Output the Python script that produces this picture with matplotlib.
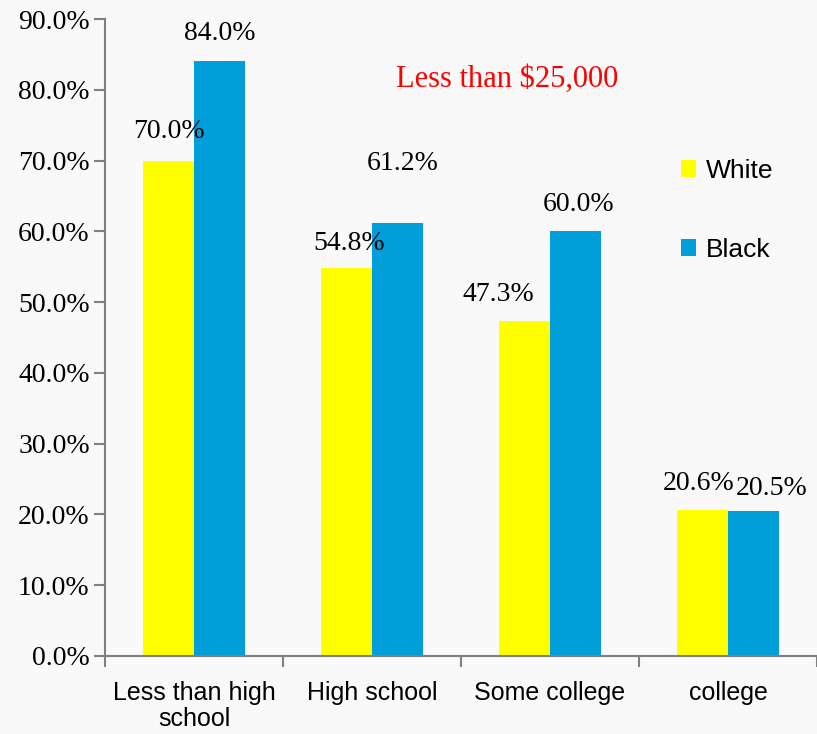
import matplotlib
matplotlib.use("Agg")
import matplotlib.pyplot as plt
import numpy as np
from matplotlib.patches import Patch

categories = ["Less than high\nschool", "High school", "Some college", "college"]
white_vals = [70.0, 54.8, 47.3, 20.6]
black_vals = [84.0, 61.2, 60.0, 20.5]
yticks = [0, 10, 20, 30, 40, 50, 60, 70, 80, 90]
title = "Less than $25,000"

YELLOW = "#FFFF00"
BLUE = "#009FDA"
BG = "#f9f9f9"
AXIS = "#808080"
SERIF = "Liberation Serif"
SANS = "Liberation Sans"

fig = plt.figure(figsize=(8.17, 7.34), dpi=100, facecolor=BG)
ax = fig.add_axes([0.1285, 0.1063, 0.8715, 0.8678])
ax.set_facecolor(BG)

x = np.arange(len(categories))
w = 0.287
bw = ax.bar(x - w / 2, white_vals, w, color=YELLOW, label="White", zorder=2)
bb = ax.bar(x + w / 2, black_vals, w, color=BLUE, label="Black", zorder=2)

ax.set_xlim(-0.5, len(categories) - 0.5)
ax.set_ylim(0, 90)

# y axis
ax.set_yticks(yticks)
ax.set_yticklabels([f"{v:.1f}%" for v in yticks], fontfamily=SERIF, fontsize=20)
ax.tick_params(axis="y", direction="out", length=8, width=1.5, color=AXIS, pad=3)

# x axis: ticks at category boundaries, labels at centres
ax.set_xticks(np.arange(-0.5, len(categories) + 0.5, 1.0))
ax.set_xticklabels([])
ax.set_xticks(x, minor=True)
ax.set_xticklabels(categories, minor=True, fontfamily=SANS, fontsize=18,
                   linespacing=1.1)
ax.tick_params(axis="x", which="major", direction="out", length=8, width=1.5, color=AXIS)
ax.tick_params(axis="x", which="minor", length=0, pad=18)

for s in ["top", "right"]:
    ax.spines[s].set_visible(False)
for s in ["left", "bottom"]:
    ax.spines[s].set_color(AXIS)
    ax.spines[s].set_linewidth(1.5)

# value labels
white_offsets = [(0, 21), (2, 18), (-19, 19), (-3, 19)]
black_offsets = [(0, 20), (4, 43), (2, 19), (13, 16)]
for bars, vals, offs in [(bw, white_vals, white_offsets), (bb, black_vals, black_offsets)]:
    for rect, v, (dx, dy) in zip(bars, vals, offs):
        ax.annotate(f"{v:.1f}%", (rect.get_x() + rect.get_width() / 2, v),
                    xytext=(dx, dy), textcoords="offset points",
                    ha="center", va="center", fontfamily=SERIF, fontsize=20,
                    zorder=3)

ax.text(0.565, 0.905, title, transform=ax.transAxes, color="red",
        fontfamily=SERIF, fontsize=22, ha="center", va="center")

handles = [Patch(facecolor=YELLOW, label="White"), Patch(facecolor=BLUE, label="Black")]
ax.legend(handles=handles, loc="upper left", bbox_to_anchor=(0.775, 0.818),
          frameon=False, prop={"family": SANS, "size": 19},
          handlelength=0.6, handleheight=0.6, handletextpad=0.35,
          labelspacing=2.1)

fig.savefig("out.png", dpi=100, facecolor=BG)
